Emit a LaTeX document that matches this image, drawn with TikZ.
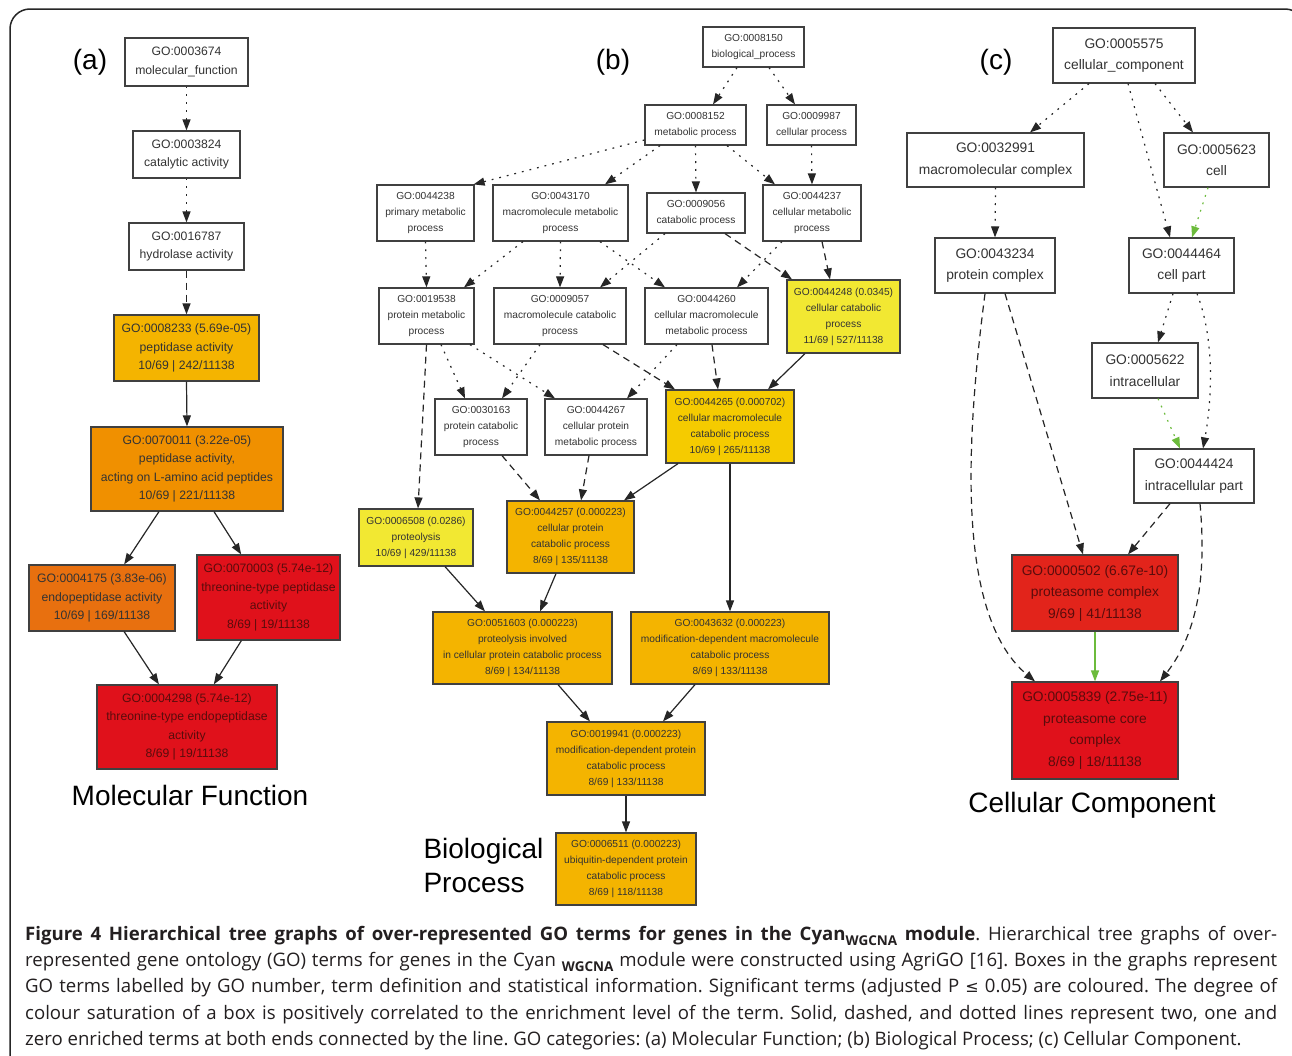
\documentclass[tikz,border=0pt]{standalone}
\usepackage{fontspec}
\setmainfont{Liberation Sans}
\newfontfamily\capfont{Open Sans}
\newfontfamily\symfont{DejaVu Sans}
\usetikzlibrary{arrows.meta}
\definecolor{cOY}{HTML}{F4B400}
\definecolor{cOr}{HTML}{F09000}
\definecolor{cDO}{HTML}{E8700F}
\definecolor{cRed}{HTML}{E0111B}
\definecolor{cRedb}{HTML}{E2241B}
\definecolor{cYel}{HTML}{F2E832}
\definecolor{cGold}{HTML}{F5CB00}
\definecolor{cGreen}{HTML}{6CBB3C}
\definecolor{cDark}{HTML}{5A0C0C}
\definecolor{cCap}{HTML}{231F20}
\newcommand\wg{\raisebox{-0.28em}{\fontsize{13.5}{13.5}\selectfont\bfseries WGCNA}}
\begin{document}
\frenchspacing
\begin{tikzpicture}[x=1pt,y=-1pt,
  gobox/.style={draw=black!75, line width=1.2pt, inner sep=0pt, align=center, fill=white, text=black!80},
  fa/.style={font=\fontsize{12.2}{18.5}\selectfont},
  fb/.style={font=\fontsize{10.2}{16}\selectfont},
  fc/.style={font=\fontsize{13.8}{21.5}\selectfont},
  redtext/.style={text=cDark},
  edge/.style={line width=1.2pt, draw=black!85, -{Triangle[length=11pt,width=8pt]}},
  dotline/.style={edge, dash pattern=on 1.8pt off 6pt},
  dashline/.style={edge, dash pattern=on 7pt off 5pt},
  greendot/.style={dotline, draw=cGreen, -{Triangle[length=11pt,width=8pt,fill=cGreen]}},
  greensolid/.style={edge, draw=cGreen, -{Triangle[length=11pt,width=8pt,fill=cGreen]}},
  panellabel/.style={font=\fontsize{28}{34}\selectfont, text=black},
  capline/.style={anchor=base west, inner sep=0pt, text=cCap, font=\capfont\fontsize{18.6}{26}\selectfont}
]
\useasboundingbox (0,0) rectangle (1292,1055);
\fill[white] (0,0) rectangle (1292,1055);
\begin{scope}
\clip (0,0) rectangle (1292,1055);
\draw[line width=1.5pt, draw=black!85, rounded corners=20pt] (10,9) rectangle (1305,1100);
\end{scope}

% ---------- panel (a) ----------
\node[panellabel] (la) at (90,62) {(a)};
\node[gobox, fa, minimum width=123pt, minimum height=48pt] (A1) at (186.5,62) {GO:0003674\\molecular\_function};
\node[gobox, fa, minimum width=107pt, minimum height=47pt] (A2) at (186.5,154.5) {GO:0003824\\catalytic activity};
\node[gobox, fa, minimum width=115pt, minimum height=47pt] (A3) at (186.5,246.5) {GO:0016787\\hydrolase activity};
\node[gobox, fa, fill=cOY, minimum width=145pt, minimum height=66pt] (A4) at (186.5,348) {GO:0008233 (5.69e-05)\\peptidase activity\\10/69 | 242/11138};
\node[gobox, fa, fill=cOr, minimum width=192pt, minimum height=84pt] (A5) at (187,469) {GO:0070011 (3.22e-05)\\peptidase activity,\\acting on L-amino acid peptides\\10/69 | 221/11138};
\node[gobox, fa, fill=cDO, minimum width=146pt, minimum height=66pt] (A6) at (102,598) {GO:0004175 (3.83e-06)\\endopeptidase activity\\10/69 | 169/11138};
\node[gobox, fa, fill=cRed, redtext, minimum width=143pt, minimum height=85pt] (A7) at (268.5,597.5) {GO:0070003 (5.74e-12)\\threonine-type peptidase\\activity\\8/69 | 19/11138};
\node[gobox, fa, fill=cRed, redtext, minimum width=180pt, minimum height=84pt] (A8) at (187,727) {GO:0004298 (5.74e-12)\\threonine-type endopeptidase\\activity\\8/69 | 19/11138};
\node[panellabel] (ta) at (190,795) {Molecular Function};

\draw[dotline] (A1.south) -- (A2.north);
\draw[dotline] (A2.south) -- (A3.north);
\draw[dashline] (A3.south) -- (A4.north);
\draw[edge] (A4.south) -- (A5.north);
\draw[edge] (A5) -- (A6);
\draw[edge] (A5) -- (A7);
\draw[edge] (A6) -- (A8);
\draw[edge] (A7) -- (A8);

% ---------- panel (b) ----------
\node[panellabel] (lb) at (613,62) {(b)};
\node[gobox, fb, minimum width=101pt, minimum height=40pt] (B1) at (753.5,47) {GO:0008150\\biological\_process};
\node[gobox, fb, minimum width=101pt, minimum height=40pt] (B2) at (695.5,125) {GO:0008152\\metabolic process};
\node[gobox, fb, minimum width=89pt, minimum height=40pt] (B3) at (811.5,125) {GO:0009987\\cellular process};
\node[gobox, fb, minimum width=97pt, minimum height=56pt] (B4) at (425.5,213) {GO:0044238\\primary metabolic\\process};
\node[gobox, fb, minimum width=135pt, minimum height=56pt] (B5) at (560.5,213) {GO:0043170\\macromolecule metabolic\\process};
\node[gobox, fb, minimum width=98pt, minimum height=40pt] (B6) at (696,213) {GO:0009056\\catabolic process};
\node[gobox, fb, minimum width=98pt, minimum height=56pt] (B7) at (812,213) {GO:0044237\\cellular metabolic\\process};
\node[gobox, fb, minimum width=95pt, minimum height=56pt] (B8) at (426.5,316) {GO:0019538\\protein metabolic\\process};
\node[gobox, fb, minimum width=132pt, minimum height=56pt] (B9) at (560,316) {GO:0009057\\macromolecule catabolic\\process};
\node[gobox, fb, minimum width=123pt, minimum height=56pt] (B10) at (706.5,316) {GO:0044260\\cellular macromolecule\\metabolic process};
\node[gobox, fb, fill=cYel, minimum width=113pt, minimum height=73pt] (B11) at (843.5,316.5) {GO:0044248 (0.0345)\\cellular catabolic\\process\\11/69 | 527/11138};
\node[gobox, fb, minimum width=92pt, minimum height=56pt] (B12) at (481,427) {GO:0030163\\protein catabolic\\process};
\node[gobox, fb, minimum width=102pt, minimum height=56pt] (B13) at (596,427) {GO:0044267\\cellular protein\\metabolic process};
\node[gobox, fb, fill=cGold, minimum width=128pt, minimum height=73pt] (B14) at (730,426.5) {GO:0044265 (0.000702)\\cellular macromolecule\\catabolic process\\10/69 | 265/11138};
\node[gobox, fb, fill=cYel, minimum width=114pt, minimum height=57pt] (B15) at (416,537.5) {GO:0006508 (0.0286)\\proteolysis\\10/69 | 429/11138};
\node[gobox, fb, fill=cOY, minimum width=127pt, minimum height=72pt] (B16) at (570.5,537) {GO:0044257 (0.000223)\\cellular protein\\catabolic process\\8/69 | 135/11138};
\node[gobox, fb, fill=cOY, minimum width=179pt, minimum height=72pt] (B17) at (522.5,648) {GO:0051603 (0.000223)\\proteolysis involved\\in cellular protein catabolic process\\8/69 | 134/11138};
\node[gobox, fb, fill=cOY, minimum width=198pt, minimum height=72pt] (B18) at (730,648) {GO:0043632 (0.000223)\\modification-dependent macromolecule\\catabolic process\\8/69 | 133/11138};
\node[gobox, fb, fill=cOY, minimum width=158pt, minimum height=73pt] (B19) at (626,758.5) {GO:0019941 (0.000223)\\modification-dependent protein\\catabolic process\\8/69 | 133/11138};
\node[gobox, fb, fill=cOY, minimum width=140pt, minimum height=72pt] (B20) at (626,869) {GO:0006511 (0.000223)\\ubiquitin-dependent protein\\catabolic process\\8/69 | 118/11138};
\node[panellabel, anchor=west, align=left] (tb) at (420,865) {Biological\\Process};

\draw[dotline] ([xshift=-16.5pt]B1.south) -- ([xshift=17.5pt]B2.north);
\draw[dotline] ([xshift=15.5pt]B1.south) -- ([xshift=-16.5pt]B3.north);
\draw[dotline] ([yshift=-15pt]B2.west) -- ([xshift=-1pt]B4.north east);
\draw[dotline] ([xshift=-35.5pt]B2.south) -- ([xshift=44.5pt]B5.north);
\draw[dotline] (B2.south) -- (B6.north);
\draw[dotline] ([xshift=31.5pt]B2.south) -- ([xshift=-37pt]B7.north);
\draw[dotline] (B3.south) -- (B7.north);
\draw[dotline] (B4.south) -- (B8.north);
\draw[dotline] ([xshift=-37.5pt]B5.south) -- ([xshift=37.5pt]B8.north);
\draw[dotline] (B5.south) -- (B9.north);
\draw[dotline] ([xshift=39.5pt]B5.south) -- ([xshift=-41.5pt]B10.north);
\draw[dotline] ([xshift=-31pt]B6.south) -- ([xshift=40pt]B9.north);
\draw[dashline] ([xshift=29pt]B6.south) -- ([xshift=-51.5pt]B11.north);
\draw[dotline] ([xshift=-30pt]B7.south) -- ([xshift=30.5pt]B10.north);
\draw[dashline] ([xshift=10pt]B7.south) -- ([xshift=-13.5pt]B11.north);
\draw[dotline] ([xshift=14.5pt]B8.south) -- ([xshift=-16pt]B12.north);
\draw[dotline] ([xshift=43.5pt]B8.south) -- ([xshift=-41pt]B13.north);
\draw[dashline] (B8.south) -- ([xshift=2pt]B15.north);
\draw[dotline] ([xshift=-20pt]B9.south) -- ([xshift=21pt]B12.north);
\draw[dashline] ([xshift=43pt]B9.south) -- ([xshift=-55pt]B14.north);
\draw[dotline] ([xshift=-29.5pt]B10.south) -- ([xshift=31pt]B13.north);
\draw[dashline] ([xshift=5.5pt]B10.south) -- ([xshift=-12pt]B14.north);
\draw[edge] ([xshift=-38.5pt]B11.south) -- ([xshift=38pt]B14.north);
\draw[dashline] ([xshift=21pt]B12.south) -- ([xshift=-30.5pt]B16.north);
\draw[dashline] ([xshift=-7pt]B13.south) -- ([xshift=10.5pt]B16.north);
\draw[edge] ([xshift=-52pt]B14.south) -- ([xshift=53.5pt]B16.north);
\draw[edge] (B14.south) -- (B18.north);
\draw[edge] ([xshift=29pt]B15.south) -- ([xshift=-37.5pt]B17.north);
\draw[edge] ([xshift=-14.5pt]B16.south) -- ([xshift=17.5pt]B17.north);
\draw[edge] ([xshift=35.5pt]B17.south) -- ([xshift=-36pt]B19.north);
\draw[edge] ([xshift=-35pt]B18.south) -- ([xshift=37pt]B19.north);
\draw[edge] (B19.south) -- (B20.north);

% ---------- panel (c) ----------
\node[panellabel] (lc) at (996,62) {(c)};
\node[gobox, fc, minimum width=142pt, minimum height=55pt] (C1) at (1124,55.5) {GO:0005575\\cellular\_component};
\node[gobox, fc, minimum width=177pt, minimum height=54pt] (C2) at (995.5,160) {GO:0032991\\macromolecular complex};
\node[gobox, fc, minimum width=105pt, minimum height=54pt] (C3) at (1216.5,160) {GO:0005623\\cell};
\node[gobox, fc, minimum width=120pt, minimum height=55pt] (C4) at (995,265.5) {GO:0043234\\protein complex};
\node[gobox, fc, minimum width=105pt, minimum height=55pt] (C5) at (1181.5,265.5) {GO:0044464\\cell part};
\node[gobox, fc, minimum width=106pt, minimum height=55pt] (C6) at (1145,370.5) {GO:0005622\\intracellular};
\node[gobox, fc, minimum width=120pt, minimum height=54pt] (C7) at (1194,476) {GO:0044424\\intracellular part};
\node[gobox, fc, fill=cRedb, redtext, minimum width=166pt, minimum height=76pt] (C8) at (1095,593) {GO:0000502 (6.67e-10)\\proteasome complex\\9/69 | 41/11138};
\node[gobox, fc, fill=cRed, redtext, minimum width=166pt, minimum height=97pt] (C9) at (1095,730.5) {GO:0005839 (2.75e-11)\\proteasome core\\complex\\8/69 | 18/11138};
\node[panellabel] (tc) at (1092,805) {Cellular Component};

\draw[dotline] ([xshift=-35pt]C1.south) -- ([xshift=34.5pt]C2.north);
\draw[dotline] ([xshift=4pt]C1.south) -- ([xshift=-11.5pt]C5.north);
\draw[dotline] ([xshift=31pt]C1.south) -- ([xshift=-23.5pt]C3.north);
\draw[greendot] ([xshift=-8.5pt]C3.south) -- ([xshift=10.5pt]C5.north);
\draw[dotline] (C2.south) -- (C4.north);
\draw[dotline] ([xshift=-8.5pt]C5.south) -- ([xshift=13pt]C6.north);
\draw[dotline] ([xshift=15.5pt]C5.south) .. controls (1215,340) and (1212,400) .. ([xshift=9pt]C7.north);
\draw[greendot] ([xshift=13pt]C6.south) -- ([xshift=-14pt]C7.north);
\draw[dashline] ([xshift=10pt]C4.south) -- ([xshift=-12pt]C8.north);
\draw[dashline] ([xshift=-10pt]C4.south) .. controls (962,470) and (962,620) .. ([xshift=-60pt]C9.north);
\draw[dashline] ([xshift=-24pt]C7.south) -- ([xshift=33pt]C8.north);
\draw[dashline] ([xshift=6pt]C7.south) .. controls (1206,570) and (1200,630) .. ([xshift=65pt]C9.north);
\draw[greensolid] (C8.south) -- (C9.north);

% ---------- caption ----------
\node[capline] (cap1) at (25,940) {\hbox to 1252pt{\textbf{Figure 4 Hierarchical tree graphs of over-represented GO terms for genes in the Cyan\wg\ module}. Hierarchical tree graphs of over-}};
\node[capline] (cap2) at (25,966) {\hbox to 1252pt{represented gene ontology (GO) terms for genes in the Cyan \wg\ module were constructed using AgriGO [16]. Boxes in the graphs represent}};
\node[capline] (cap3) at (25,992) {\hbox to 1252pt{GO terms labelled by GO number, term definition and statistical information. Significant terms (adjusted P {\symfont\fontsize{16}{16}\selectfont ≤} 0.05) are coloured. The degree of}};
\node[capline] (cap4) at (25,1019) {\hbox to 1252pt{colour saturation of a box is positively correlated to the enrichment level of the term. Solid, dashed, and dotted lines represent two, one and}};
\node[capline] (cap5) at (25,1045) {zero enriched terms at both ends connected by the line. GO categories: (a) Molecular Function; (b) Biological Process; (c) Cellular Component.};
\end{tikzpicture}
\end{document}
